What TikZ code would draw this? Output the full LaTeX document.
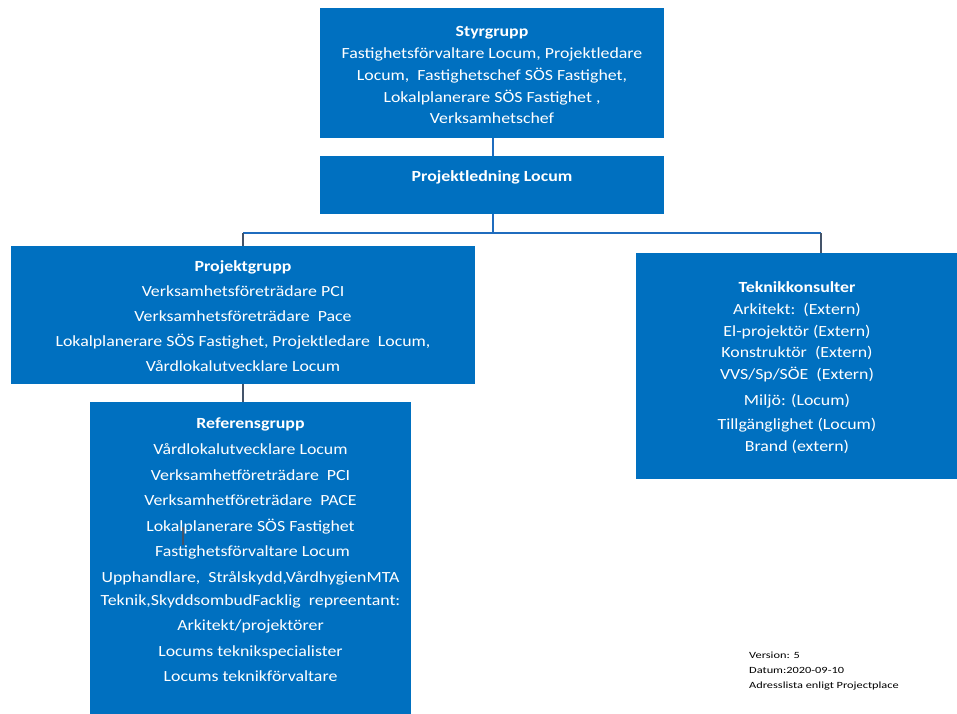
\documentclass[tikz,border=0pt]{standalone}
\usepackage{fontspec}
\setmainfont{Carlito}[FakeStretch=1.15]
\newfontfamily\notefont{Carlito}[FakeStretch=1.3]
\definecolor{boxblue}{RGB}{0,112,192}
\definecolor{lineblue}{RGB}{31,108,190}
\definecolor{linegrey}{RGB}{68,84,106}
\begin{document}
\begin{tikzpicture}[x=1pt,y=-1pt,
  orgbox/.style={fill=boxblue,draw=none,inner sep=0pt,rectangle},
  boxtext/.style={text=white,align=center,inner sep=0pt,anchor=north,font=\fontsize{15.5}{22}\selectfont},
  conn/.style={draw=lineblue,line width=2.6pt},
  drop/.style={draw=linegrey,line width=2.6pt},
  note/.style={anchor=north west,inner sep=0pt,align=left,font=\notefont\fontsize{9.5}{15}\selectfont}]
\useasboundingbox (0,0) rectangle (957,713);
\begin{scope}
\clip (0,0) rectangle (957,713);
% boxes
\node[orgbox,minimum width=344pt,minimum height=130pt] (sty) at (492,73) {};
\node[orgbox,minimum width=344pt,minimum height=58pt] (pl) at (492,185) {};
\node[orgbox,minimum width=464pt,minimum height=138pt] (pg) at (243,315) {};
\node[orgbox,minimum width=321pt,minimum height=318pt] (ref) at (250.5,561) {};
\node[orgbox,minimum width=324pt,minimum height=226pt] (tk) at (798,366) {};
% connectors
\coordinate (j) at (493,233);
\coordinate (tkc) at (821,253);
\coordinate (stubA) at (183,527);
\coordinate (stubB) at (183,545);
\draw[conn] (sty.south -| j) -- (pl.north -| j);
\draw[conn] (pl.south -| j) -- (j);
\draw[conn] (pg.north |- j) -- (tkc |- j);
\draw[drop] (pg.north |- j) -- (pg.north);
\draw[drop] (tkc |- j) -- (tkc);
\draw[drop] (pg.south) -- (pg.south |- ref.north);
\draw[drop,line width=1.2pt] (stubA) -- (stubB);
\end{scope}
% texts
\node[boxtext] (styt) at (492,26.5) {\textbf{Styrgrupp}\\Fastighetsförvaltare Locum, Projektledare\\Locum,\ \ Fastighetschef SÖS Fastighet,\\Lokalplanerare SÖS Fastighet ,\\[-1pt]Verksamhetschef};
\node[boxtext] (plt) at (492,170.5) {\textbf{Projektledning Locum}};
\node[boxtext,font=\fontsize{15.5}{25}\selectfont] (pgt) at (243,260.5) {\textbf{Projektgrupp}\\Verksamhetsföreträdare PCI\\Verksamhetsföreträdare\ \ Pace\\Lokalplanerare SÖS Fastighet, Projektledare\ \ Locum,\\Vårdlokalutvecklare Locum};
\node[boxtext,font=\fontsize{15.5}{25.6}\selectfont] (reft) at (250.5,418) {\textbf{Referensgrupp}\\Vårdlokalutvecklare Locum\\Verksamhetföreträdare\ \ PCI\\Verksamhetföreträdare\ \ PACE\\Lokalplanerare SÖS Fastighet\\\ Fastighetsförvaltare Locum\\Upphandlare,\ \ Strålskydd,VårdhygienMTA\\[-3pt]Teknik,SkyddsombudFacklig\ \ repreentant:\\Arkitekt/projektörer\\Locums teknikspecialister\\Locums teknikförvaltare};
\node[boxtext,font=\fontsize{15.5}{21.8}\selectfont] (tkt) at (797,281.5) {\textbf{Teknikkonsulter}\\Arkitekt:\ \ (Extern)\\El-projektör (Extern)\\Konstruktör\ \ (Extern)\\VVS/Sp/SÖE\ \ (Extern)\\[4pt]Miljö: (Locum)\\[2pt]Tillgänglighet (Locum)\\Brand (extern)};
\node[note] (ver) at (749,651.5) {Version: 5\\Datum:2020-09-10\\Adresslista enligt Projectplace};
\end{tikzpicture}
\end{document}
